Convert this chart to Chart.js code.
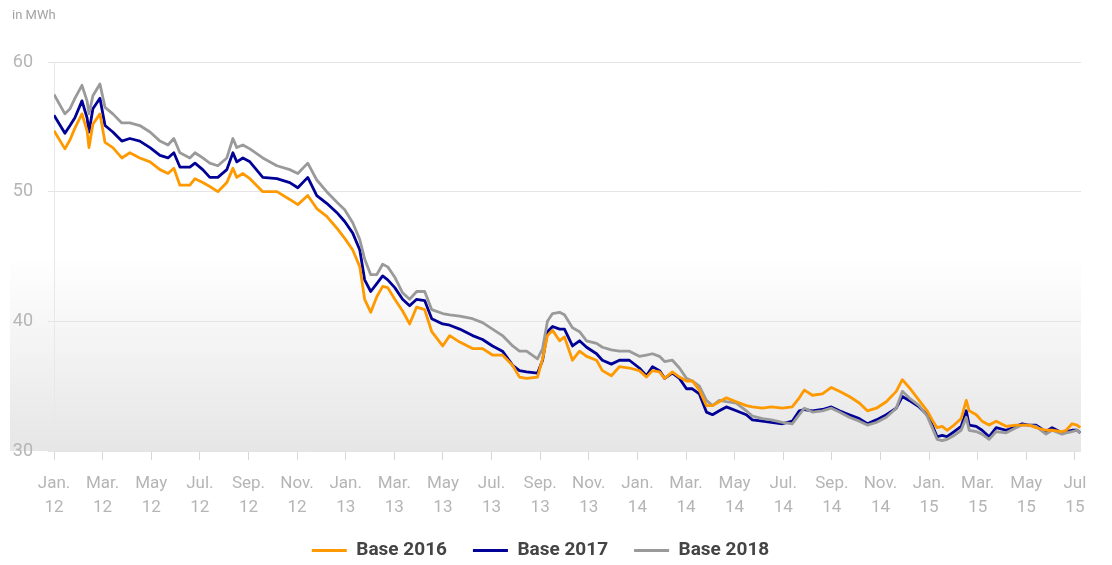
<!DOCTYPE html>
<html>
<head>
<meta charset="utf-8">
<script src="https://cdn.jsdelivr.net/npm/chart.js@4.4.0/dist/chart.umd.min.js"></script>
<style>
    html, body { margin: 0; padding: 0; background: #fff; }
    .chart-box { width: 1112px; height: 565px; position: relative; }
</style>
</head>
<body>
<div class="chart-box"><canvas id="priceChart"></canvas></div>
<script>
// months since Jan. 2012 (x positions of the samples)
const months = [
    0, 0.45, 0.66, 0.86, 1.15, 1.36, 1.44, 1.60, 1.89, 2.10, 2.42, 2.79, 3.12, 3.53, 3.95, 4.36, 4.69, 4.93,
    5.18, 5.59, 5.80, 6.12, 6.41, 6.74, 7.11, 7.36, 7.52, 7.77, 8.06, 8.59, 9.17, 9.70, 10.03, 10.44,
    10.81, 11.22, 11.63, 11.96, 12.29, 12.58, 12.78, 13.03, 13.28, 13.52, 13.73, 14.02, 14.34, 14.63, 14.92, 15.25,
    15.54, 15.99, 16.28, 16.69, 17.22, 17.63, 18.04, 18.45, 18.87, 19.15, 19.44, 19.89, 20.10, 20.30, 20.51, 20.80,
    21.00, 21.33, 21.62, 21.91, 22.32, 22.56, 22.93, 23.26, 23.67, 24.08, 24.37, 24.62, 24.91, 25.12, 25.44, 25.73,
    26.02, 26.26, 26.55, 26.84, 27.09, 27.37, 27.66, 28.07, 28.48, 28.73, 29.14, 29.51, 29.96, 30.37, 30.66, 30.87, 31.20,
    31.61, 31.98, 32.31, 32.72, 33.13, 33.46, 33.83, 34.24, 34.65, 34.90, 35.18, 35.59, 35.92, 36.13, 36.33, 36.54,
    36.74, 37.03, 37.32, 37.53, 37.65, 37.94, 38.18, 38.47, 38.76, 39.17, 39.58, 39.83, 40.11, 40.40, 40.81, 41.06,
    41.47, 41.64, 41.88, 42.09, 42.22
];

const base2016 = [
    54.7, 53.3, 54.0, 54.9, 56.0, 54.7, 53.4, 55.2, 56.0, 53.8, 53.4, 52.6, 53.0, 52.6, 52.3, 51.7, 51.4, 51.8,
    50.5, 50.5, 51.0, 50.7, 50.4, 50.0, 50.7, 51.8, 51.1, 51.4, 51.0, 50.0, 50.0, 49.4, 49.0, 49.7,
    48.7, 48.1, 47.2, 46.4, 45.5, 44.2, 41.7, 40.7, 41.9, 42.7, 42.6, 41.7, 40.8, 39.8, 41.1, 40.9,
    39.2, 38.1, 38.9, 38.4, 37.9, 37.9, 37.4, 37.4, 36.6, 35.7, 35.6, 35.7, 37.1, 38.9, 39.3, 38.5,
    38.8, 37.0, 37.7, 37.3, 37.0, 36.2, 35.8, 36.5, 36.4, 36.2, 35.7, 36.2, 36.1, 35.6, 36.1, 35.7,
    35.4, 35.4, 34.7, 33.5, 33.5, 33.8, 34.1, 33.8, 33.5, 33.4, 33.3, 33.4, 33.3, 33.4, 34.1, 34.7, 34.3,
    34.4, 34.9, 34.6, 34.2, 33.7, 33.1, 33.3, 33.8, 34.6, 35.5, 34.9, 33.9, 33.1, 32.4, 31.8, 31.9,
    31.6, 32.0, 32.5, 33.9, 33.1, 32.8, 32.3, 32.0, 32.3, 31.9, 32.0, 32.0, 32.0, 31.8, 31.6, 31.6,
    31.5, 31.6, 32.1, 32.0, 31.8
];

const base2017 = [
    55.9, 54.5, 55.1, 55.7, 57.0, 55.7, 54.6, 56.4, 57.2, 55.1, 54.6, 53.9, 54.1, 53.9, 53.4, 52.8, 52.6, 53.0,
    51.9, 51.9, 52.2, 51.7, 51.1, 51.1, 51.7, 53.0, 52.3, 52.6, 52.3, 51.1, 51.0, 50.7, 50.3, 51.1,
    49.7, 49.1, 48.4, 47.7, 46.8, 45.5, 43.2, 42.3, 42.9, 43.5, 43.2, 42.6, 41.7, 41.2, 41.7, 41.6,
    40.2, 39.8, 39.7, 39.4, 38.9, 38.6, 38.1, 37.7, 36.6, 36.2, 36.1, 36.0, 37.0, 39.2, 39.6, 39.4,
    39.4, 38.1, 38.5, 38.0, 37.5, 37.0, 36.7, 37.0, 37.0, 36.4, 35.8, 36.5, 36.2, 35.6, 36.0, 35.6,
    34.8, 34.8, 34.4, 33.0, 32.8, 33.1, 33.4, 33.1, 32.8, 32.4, 32.3, 32.2, 32.1, 32.3, 33.1, 33.2, 33.1,
    33.2, 33.4, 33.1, 32.8, 32.5, 32.1, 32.4, 32.8, 33.3, 34.2, 33.9, 33.4, 32.8, 32.0, 31.1, 31.2,
    31.1, 31.5, 31.9, 33.1, 32.0, 31.9, 31.6, 31.1, 31.8, 31.6, 31.9, 32.1, 32.0, 32.0, 31.5, 31.8,
    31.4, 31.5, 31.6, 31.6, 31.4
];

const base2018 = [
    57.5, 56.0, 56.4, 57.2, 58.2, 57.0, 56.0, 57.4, 58.3, 56.5, 56.0, 55.3, 55.3, 55.1, 54.6, 53.9, 53.6, 54.1,
    53.0, 52.6, 53.0, 52.6, 52.2, 52.0, 52.6, 54.1, 53.4, 53.6, 53.3, 52.6, 52.0, 51.7, 51.4, 52.2,
    50.9, 50.0, 49.2, 48.6, 47.6, 46.3, 44.8, 43.6, 43.6, 44.4, 44.2, 43.4, 42.2, 41.7, 42.3, 42.3,
    40.9, 40.6, 40.5, 40.4, 40.2, 39.9, 39.4, 38.9, 38.1, 37.7, 37.7, 37.1, 37.9, 40.0, 40.6, 40.7,
    40.5, 39.5, 39.2, 38.5, 38.3, 38.0, 37.8, 37.7, 37.7, 37.3, 37.4, 37.5, 37.3, 36.9, 37.0, 36.4,
    35.6, 35.4, 35.0, 33.9, 33.5, 33.9, 33.8, 33.7, 33.1, 32.7, 32.5, 32.4, 32.2, 32.1, 32.8, 33.3, 33.0,
    33.1, 33.3, 33.0, 32.6, 32.3, 32.0, 32.2, 32.6, 33.3, 34.6, 34.1, 33.5, 32.7, 31.8, 30.9, 30.8,
    30.9, 31.2, 31.6, 32.6, 31.6, 31.5, 31.3, 30.9, 31.5, 31.4, 31.8, 32.0, 32.0, 31.9, 31.3, 31.6,
    31.3, 31.4, 31.5, 31.6, 31.4
];

// x axis labels: every second month
const tickMonths = [0, 2, 4, 6, 8, 10, 12, 14, 16, 18, 20, 22, 24, 26, 28, 30, 32, 34, 36, 38, 40, 42];
const tickMonthNames = ['Jan.', 'Mar.', 'May', 'Jul.', 'Sep.', 'Nov.', 'Jan.', 'Mar.', 'May', 'Jul.', 'Sep.',
    'Nov.', 'Jan.', 'Mar.', 'May', 'Jul.', 'Sep.', 'Nov.', 'Jan.', 'Mar.', 'May', 'Jul'];
const tickYears = ['12', '12', '12', '12', '12', '12', '13', '13', '13', '13', '13',
    '13', '14', '14', '14', '14', '14', '14', '15', '15', '15', '15'];

const seriesNames = ['Base 2016', 'Base 2017', 'Base 2018'];
const seriesColors = ['#ff9900', '#000096', '#9a9a9a'];

const toPoints = vals => vals.map((v, i) => ({ x: months[i], y: v }));

// grey fade behind the plot + unit label
const backdrop = {
    id: 'backdrop',
    beforeDraw(chart) {
        const { ctx, chartArea } = chart;
        const g = ctx.createLinearGradient(0, chartArea.top, 0, chartArea.bottom);
        g.addColorStop(0, '#ffffff');
        g.addColorStop(0.5, '#ffffff');
        g.addColorStop(1, '#e6e6e6');
        ctx.save();
        ctx.fillStyle = g;
        ctx.fillRect(10, chartArea.top, chartArea.right - 10, chartArea.bottom - chartArea.top);
        ctx.restore();
    },
    afterDraw(chart) {
        const ctx = chart.ctx;
        ctx.save();
        ctx.font = '13px Roboto';
        ctx.fillStyle = '#a3a3a3';
        ctx.textBaseline = 'middle';
        ctx.fillText('in MWh', 12, 16);
        ctx.restore();
    }
};

new Chart(document.getElementById('priceChart'), {
    type: 'line',
    data: {
        datasets: [base2016, base2017, base2018].map((vals, i) => ({
            label: seriesNames[i],
            data: toPoints(vals),
            borderColor: seriesColors[i],
            backgroundColor: seriesColors[i],
            borderWidth: 2.8,
            pointRadius: 0,
            tension: 0,
            borderJoinStyle: 'round',
            order: [0, 2, 1][i]
        }))
    },
    options: {
        responsive: true,
        maintainAspectRatio: false,
        animation: false,
        layout: { padding: { top: 62, left: 0, right: 31, bottom: -5 } },
        scales: {
            x: {
                type: 'linear',
                min: 0,
                max: 42.25,
                afterFit: s => { s.height = 64; },
                afterBuildTicks: s => { s.ticks = tickMonths.map(v => ({ value: v })); },
                grid: { drawOnChartArea: false, drawTicks: true, tickLength: 9, color: '#d6d6d6' },
                border: { display: false },
                ticks: {
                    autoSkip: false,
                    maxRotation: 0,
                    padding: 11,
                    color: '#b5b5b5',
                    font: { family: 'Roboto', size: 17, lineHeight: 1.45 },
                    callback: v => {
                        const i = tickMonths.indexOf(v);
                        return i < 0 ? '' : [tickMonthNames[i], tickYears[i]];
                    }
                }
            },
            y: {
                min: 30,
                max: 60,
                afterFit: s => { s.width = 54; },
                grid: { color: '#e4e4e4', tickLength: 6 },
                border: { display: true, color: '#e8e8e8' },
                ticks: {
                    stepSize: 10,
                    padding: 15,
                    color: '#b5b5b5',
                    font: { family: 'Roboto', size: 18 }
                }
            }
        },
        plugins: {
            tooltip: { enabled: false },
            legend: {
                position: 'bottom',
                labels: {
                    boxWidth: 35,
                    boxHeight: 3,
                    padding: 26,
                    color: '#444',
                    font: { family: 'Roboto', size: 19, weight: 'bold' },
                    sort: (a, b) => a.datasetIndex - b.datasetIndex,
                    generateLabels: chart => Chart.defaults.plugins.legend.labels.generateLabels(chart)
                        .map(l => ({ ...l, lineWidth: 0 }))
                }
            }
        }
    },
    plugins: [backdrop]
});
</script>
</body>
</html>
